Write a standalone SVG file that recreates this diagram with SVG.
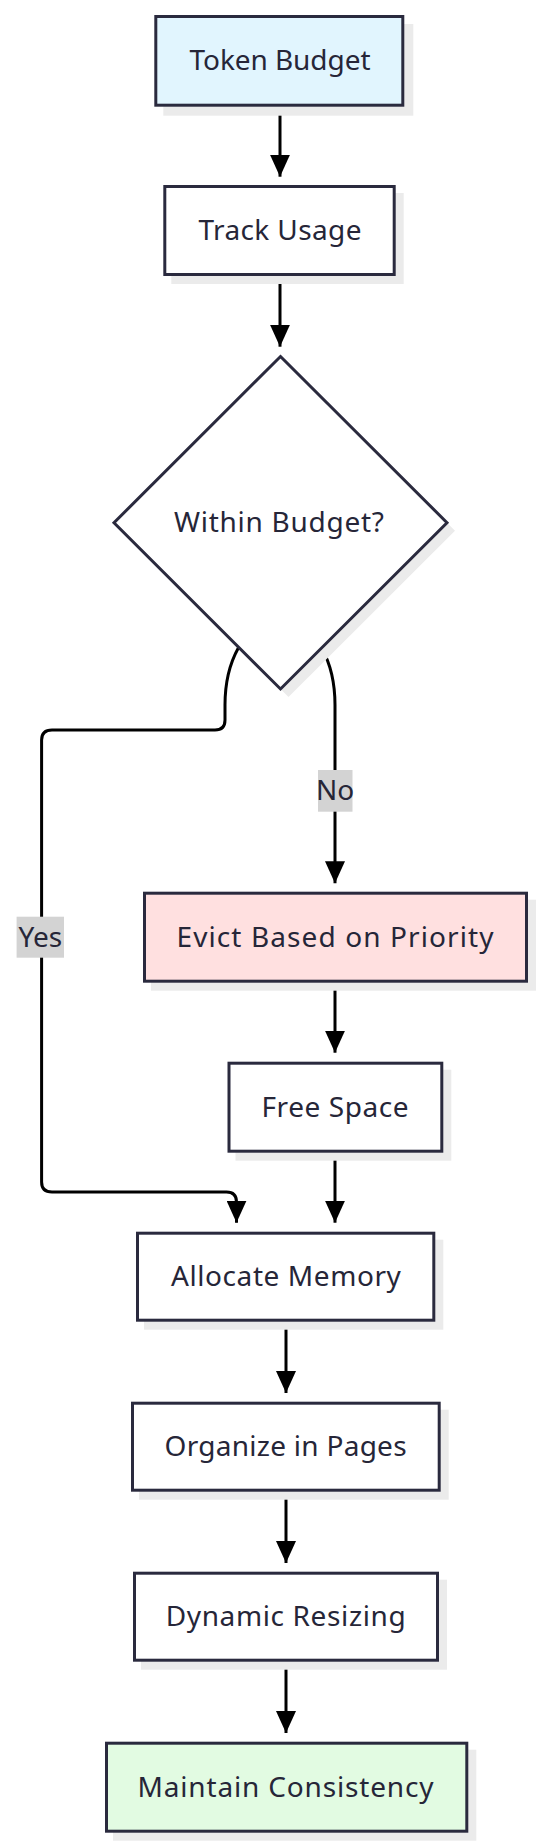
<svg xmlns="http://www.w3.org/2000/svg" width="543" height="1848" viewBox="0 0 543 1848">
  <defs>
    <style>
      .box { stroke: #2a2a3e; stroke-width: 3; }
      .shadow { fill: #ebebeb; }
      .lbl { font-family: "Noto Sans", "Open Sans", "DejaVu Sans", sans-serif; font-size: 28px; fill: #262638; text-anchor: middle; }
      .edge { fill: none; stroke: #000; stroke-width: 3; }
      .elbl { fill: #d3d3d3; }
    </style>
    <marker id="arrow" viewBox="0 0 22 20" refX="22" refY="10" markerWidth="22" markerHeight="20" markerUnits="userSpaceOnUse" orient="auto">
      <path d="M0,0 L22,10 L0,20 Z" fill="#000"/>
    </marker>
  </defs>
  <rect width="543" height="1848" fill="#fff"/>

  <g id="edges">
    <path class="edge" d="M280,107 L280,176.7" marker-end="url(#arrow)"/>
    <path class="edge" d="M280,276 L280,346.7" marker-end="url(#arrow)"/>
    <path class="edge" d="M321.7,648 Q335,672 335,705 L335,883.3" marker-end="url(#arrow)"/>
    <path class="edge" d="M238.3,648 Q225,672 225,705 L225,720 Q225,730 215,730 L52,730 Q41.6,730 41.6,740 L41.6,1182 Q41.6,1192 52,1192 L226.5,1192 Q236.5,1192 236.5,1202 L236.5,1222.7" marker-end="url(#arrow)"/>
    <path class="edge" d="M335,983 L335,1052.7" marker-end="url(#arrow)"/>
    <path class="edge" d="M335,1153 L335,1222.7" marker-end="url(#arrow)"/>
    <path class="edge" d="M286,1322 L286,1393" marker-end="url(#arrow)"/>
    <path class="edge" d="M286,1492 L286,1563" marker-end="url(#arrow)"/>
    <path class="edge" d="M286,1662 L286,1733" marker-end="url(#arrow)"/>
    <g id="label-no">
      <rect class="elbl" x="318" y="770" width="34.5" height="41.7"/>
      <text class="lbl" x="335.2" y="800.3">No</text>
    </g>
    <g id="label-yes">
      <rect class="elbl" x="16.6" y="916.7" width="47.4" height="41"/>
      <text class="lbl" x="40.3" y="946.7">Yes</text>
    </g>
  </g>

  <g id="node-token-budget">
    <rect class="shadow" x="163.3" y="24" width="250" height="91.7"/>
    <rect class="box" fill="#e1f5fe" x="155.8" y="16.5" width="247" height="88.7"/>
    <text class="lbl" x="280" y="70.3" textLength="181">Token Budget</text>
  </g>

  <g id="node-track-usage">
    <rect class="shadow" x="171.3" y="193" width="232.4" height="91"/>
    <rect class="box" fill="#fff" x="164.8" y="186.5" width="229.4" height="88"/>
    <text class="lbl" x="280" y="240" textLength="163">Track Usage</text>
  </g>

  <g id="node-within-budget">
    <polygon class="shadow" points="288.5,364.5 455,530.7 288.5,697 122,530.7"/>
    <polygon class="box" fill="#fff" points="280.5,356.5 447,522.7 280.5,689 114,522.7"/>
    <text class="lbl" x="279" y="531.7" textLength="210">Within Budget?</text>
  </g>

  <g id="node-evict">
    <rect class="shadow" x="151" y="899.7" width="385" height="91"/>
    <rect class="box" fill="#ffe0e0" x="144.5" y="893.2" width="382" height="88"/>
    <text class="lbl" x="335" y="946.7" textLength="317">Evict Based on Priority</text>
  </g>

  <g id="node-free-space">
    <rect class="shadow" x="235.5" y="1069.7" width="215.8" height="91"/>
    <rect class="box" fill="#fff" x="229" y="1063.2" width="212.8" height="88"/>
    <text class="lbl" x="335" y="1116.7" textLength="147">Free Space</text>
  </g>

  <g id="node-allocate">
    <rect class="shadow" x="144" y="1239.7" width="299.3" height="90"/>
    <rect class="box" fill="#fff" x="137.5" y="1233.2" width="296.3" height="87"/>
    <text class="lbl" x="285.9" y="1286.2" textLength="230">Allocate Memory</text>
  </g>

  <g id="node-organize">
    <rect class="shadow" x="139" y="1409.7" width="309.7" height="90"/>
    <rect class="box" fill="#fff" x="132.5" y="1403.2" width="306.7" height="87"/>
    <text class="lbl" x="285.6" y="1456.2" textLength="242">Organize in Pages</text>
  </g>

  <g id="node-dynamic">
    <rect class="shadow" x="141" y="1579.7" width="306" height="90"/>
    <rect class="box" fill="#fff" x="134.5" y="1573.2" width="303" height="87"/>
    <text class="lbl" x="285.7" y="1626.2" textLength="240">Dynamic Resizing</text>
  </g>

  <g id="node-maintain">
    <rect class="shadow" x="113" y="1749.7" width="363.3" height="91"/>
    <rect class="box" fill="#e2fbe2" x="106.5" y="1743.2" width="360.3" height="88"/>
    <text class="lbl" x="285.5" y="1796.7" textLength="296">Maintain Consistency</text>
  </g>
</svg>
